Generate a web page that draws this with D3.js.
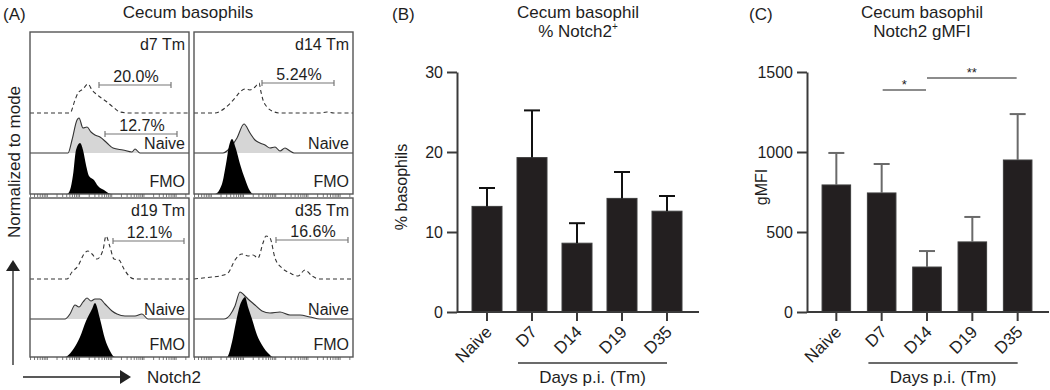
<!DOCTYPE html>
<html>
<head>
<meta charset="utf-8">
<script src="https://cdn.jsdelivr.net/npm/d3@7"></script>
<style>
  body { margin: 0; background: #fff; }
  text { font-family: "Liberation Sans", Arial, sans-serif; fill: #1e1e1e; }
</style>
</head>
<body>
<svg id="chart" width="1050" height="390"></svg>
<script>
// ---- data ----
// histograms: [channel, height] pairs, channel 0..159 across each box
var d7Dashed = [[0,0],[40,0],[45,13],[48,20],[53,24],[58,29],[62,23],[65,20],[70,16],[77,11],[83,6],[90,1],[100,0],[159,0]]
var d7Naive = [[0,0],[38,0],[42,13],[47,33],[49,35],[53,25],[57,26],[61,21],[65,18],[70,16],[77,10],[83,5],[93,3],[102,1],[105,4],[110,0],[159,0]]
var d7Fmo = [[0,0],[37,0],[40,4],[43,19],[46,44],[50,51],[53,44],[56,29],[59,18],[64,14],[68,8],[74,4],[81,0],[159,0]]

var d14Dashed = [[0,0],[21,0],[31,5],[41,15],[46,21],[51,24],[56,23],[61,26],[65,30],[67,21],[69,13],[73,6],[78,2],[86,0],[126,0],[133,1],[140,0],[159,0]]
var d14Naive = [[0,0],[29,0],[36,5],[43,15],[50,29],[56,20],[61,13],[66,10],[71,8],[76,5],[81,6],[86,2],[91,5],[96,2],[100,0],[159,0]]
var d14Fmo = [[0,0],[21,0],[28,10],[32,30],[35,48],[38,55],[42,45],[46,30],[51,15],[56,3],[59,0],[159,0]]

var d19Dashed = [[0,0],[37,0],[42,7],[48,13],[54,25],[58,28],[62,25],[67,20],[73,29],[76,43],[80,32],[84,20],[89,19],[94,10],[100,2],[105,0],[159,0]]
var d19Naive = [[0,0],[35,0],[40,5],[45,14],[49,12],[53,17],[57,21],[61,18],[65,20],[70,20],[75,15],[82,8],[87,5],[95,3],[105,3],[112,5],[118,0],[159,0]]
var d19Fmo = [[0,0],[35,0],[42,6],[50,20],[56,36],[62,48],[65,54],[70,38],[75,18],[80,6],[85,0],[159,0]]

var d35Dashed = [[0,0],[18,2],[26,3],[34,6],[41,19],[48,25],[54,23],[59,24],[64,21],[69,36],[72,43],[76,41],[81,21],[88,11],[96,6],[104,3],[111,9],[118,3],[126,0],[159,0]]
var d35Naive = [[0,0],[30,0],[36,4],[41,13],[46,27],[50,24],[54,20],[61,14],[68,8],[76,6],[86,7],[96,4],[106,4],[116,2],[126,0],[159,0]]
var d35Fmo = [[0,0],[33,0],[38,15],[42,35],[46,52],[49,58],[51,60],[54,50],[58,38],[63,22],[68,12],[75,3],[79,0],[159,0]]

var histLabels = ["d7 Tm", "d14 Tm", "d19 Tm", "d35 Tm"]
var gateText = ["20.0%", "5.24%", "12.1%", "16.6%"]
var gateFrom = [69, 68, 83, 82]
var gateTo = [141, 140, 154, 154]
var gateHeight = [28, 30, 38, 39]
var naiveGateText = "12.7%"
var naiveGate = [75, 147, 19]

// bar charts
var days = ["Naive", "D7", "D14", "D19", "D35"]
var pctMean = [13.2, 19.3, 8.6, 14.2, 12.6]
var pctSem = [2.3, 5.9, 2.5, 3.3, 1.9]
var pctTicks = [0, 10, 20, 30]
var mfiMean = [794, 744, 281, 438, 950]
var mfiSem = [200, 181, 100, 156, 287]
var mfiTicks = [0, 500, 1000, 1500]

var svg = d3.select("#chart")
var dark = "#3a3a3a"

// ---- panel A ----
svg.append("text").attr("x", 3).attr("y", 20).attr("font-size", 17).text("(A)")
svg.append("text").attr("x", 188).attr("y", 18).attr("font-size", 17)
  .attr("text-anchor", "middle").text("Cecum basophils")

var boxes = [
  {x0: 30, y0: 32, h: 162, dashed: d7Dashed, naive: d7Naive, fmo: d7Fmo},
  {x0: 194, y0: 32, h: 162, dashed: d14Dashed, naive: d14Naive, fmo: d14Fmo},
  {x0: 30, y0: 198, h: 159, dashed: d19Dashed, naive: d19Naive, fmo: d19Fmo},
  {x0: 194, y0: 198, h: 159, dashed: d35Dashed, naive: d35Naive, fmo: d35Fmo}
]

boxes.forEach(function (b, i) {
  var g = svg.append("g")
  var x = d3.scaleLinear().domain([0, 159]).range([b.x0, b.x0 + 159])
  var dashBase = b.y0 + 81
  var naiveBase = b.y0 + 121
  var fmoBase = b.y0 + b.h
  var y = d3.scaleLinear().domain([0, 60]).range([0, 60])

  var area = function (base) {
    return d3.area().curve(d3.curveMonotoneX)
      .x(function (d) { return x(d[0]) })
      .y0(base)
      .y1(function (d) { return base - y(d[1]) })
  }
  var line = function (base) {
    return d3.line().curve(d3.curveMonotoneX)
      .x(function (d) { return x(d[0]) })
      .y(function (d) { return base - y(d[1]) })
  }

  g.append("path").datum(b.naive).attr("d", area(naiveBase))
    .attr("fill", "#d6d6d6")
  g.append("path").datum(b.naive).attr("d", line(naiveBase))
    .attr("fill", "none").attr("stroke", "#333").attr("stroke-width", 1.1)
  g.append("path").datum(b.fmo).attr("d", area(fmoBase))
    .attr("fill", "#000")
  g.append("path").datum(b.dashed).attr("d", line(dashBase))
    .attr("fill", "none").attr("stroke", "#333").attr("stroke-width", 1.1)
    .attr("stroke-dasharray", "4,3")

  // log scale ticks along the bottom
  var lx = d3.scaleLog().domain([3, 2.6e5]).range([b.x0, b.x0 + 159])
  var ax = g.append("g").attr("transform", "translate(0," + fmoBase + ")")
    .call(d3.axisBottom(lx).tickSize(3).tickFormat(""))
  ax.select(".domain").remove()
  ax.selectAll("line").attr("stroke", "#555").attr("stroke-width", 0.8)

  g.append("rect").attr("x", b.x0).attr("y", b.y0).attr("width", 159).attr("height", b.h)
    .attr("fill", "none").attr("stroke", "#555").attr("stroke-width", 1.4)

  g.append("text").attr("x", b.x0 + 155).attr("y", b.y0 + 18).attr("font-size", 16)
    .attr("text-anchor", "end").text(histLabels[i])
  g.append("text").attr("x", b.x0 + 155).attr("y", naiveBase - 4).attr("font-size", 16)
    .attr("text-anchor", "end").text("Naive")
  g.append("text").attr("x", b.x0 + 155).attr("y", fmoBase - 7).attr("font-size", 16)
    .attr("text-anchor", "end").text("FMO")

  var gates = [{from: gateFrom[i], to: gateTo[i], yy: dashBase - gateHeight[i], t: gateText[i]}]
  if (i === 0) gates.push({from: naiveGate[0], to: naiveGate[1], yy: naiveBase - naiveGate[2], t: naiveGateText})
  gates.forEach(function (gt) {
    g.append("line").attr("x1", x(gt.from)).attr("x2", x(gt.to)).attr("y1", gt.yy).attr("y2", gt.yy)
      .attr("stroke", "#777").attr("stroke-width", 1.2)
    ;[gt.from, gt.to].forEach(function (v) {
      g.append("line").attr("x1", x(v)).attr("x2", x(v)).attr("y1", gt.yy - 3).attr("y2", gt.yy + 3)
        .attr("stroke", "#777").attr("stroke-width", 1.2)
    })
    g.append("text").attr("x", (x(gt.from) + x(gt.to)) / 2 + 1).attr("y", gt.yy - 3)
      .attr("font-size", 16).attr("text-anchor", "middle").text(gt.t)
  })
})

svg.append("text").attr("transform", "translate(20,162) rotate(-90)")
  .attr("font-size", 17).attr("text-anchor", "middle").text("Normalized to mode")
svg.append("line").attr("x1", 13).attr("x2", 13).attr("y1", 365).attr("y2", 268)
  .attr("stroke", "#222").attr("stroke-width", 1.3)
svg.append("path").attr("d", "M13,260 L6,271 L20,271 Z").attr("fill", "#222")
svg.append("line").attr("x1", 23).attr("x2", 122).attr("y1", 377).attr("y2", 377)
  .attr("stroke", "#222").attr("stroke-width", 1.3)
svg.append("path").attr("d", "M131,377 L120,370 L120,384 Z").attr("fill", "#222")
svg.append("text").attr("x", 147).attr("y", 383).attr("font-size", 17).text("Notch2")

// ---- panels B and C ----
function drawBars(cfg) {
  var g = svg.append("g")
  var top = 72, bottom = 312
  var y = d3.scaleLinear().domain(cfg.domain).range([bottom, top])
  var x = d3.scaleBand().domain(days)
    .range([cfg.axisX + 7.5, cfg.axisX + 232.5])
    .paddingInner(cfg.padIn).paddingOuter(1 / 6)

  g.append("text").attr("x", cfg.letterX).attr("y", 20).attr("font-size", 17).text(cfg.letter)
  g.append("text").attr("x", cfg.titleX).attr("y", 18).attr("font-size", 17)
    .attr("text-anchor", "middle").text("Cecum basophil")
  var t2 = g.append("text").attr("x", cfg.titleX).attr("y", 37).attr("font-size", 17)
    .attr("text-anchor", "middle")
  t2.append("tspan").text(cfg.title2)
  if (cfg.sup) t2.append("tspan").attr("font-size", 10).attr("dy", -7).text(cfg.sup)

  // bars
  g.selectAll(".bar").data(days).enter().append("rect")
    .attr("class", "bar")
    .attr("x", function (d) { return x(d) })
    .attr("width", x.bandwidth())
    .attr("y", function (d, i) { return y(cfg.mean[i]) })
    .attr("height", function (d, i) { return y(0) - y(cfg.mean[i]) })
    .attr("fill", "#231f20").attr("stroke", "#3c3c3c").attr("stroke-width", 1)

  // error bars (upper)
  days.forEach(function (d, i) {
    var cx = x(d) + x.bandwidth() / 2
    var hi = y(cfg.mean[i] + cfg.sem[i])
    g.append("line").attr("x1", cx).attr("x2", cx).attr("y1", y(cfg.mean[i])).attr("y2", hi)
      .attr("stroke", cfg.errColor).attr("stroke-width", 2)
    g.append("line").attr("x1", cx - 8).attr("x2", cx + 8).attr("y1", hi).attr("y2", hi)
      .attr("stroke", cfg.errColor).attr("stroke-width", 2)
  })

  // y axis
  var ya = g.append("g").attr("transform", "translate(" + cfg.axisX + ",0)")
    .call(d3.axisLeft(y).tickValues(cfg.ticks).tickFormat(d3.format("d"))
      .tickSize(10).tickPadding(4).tickSizeOuter(0))
  ya.select(".domain").attr("stroke", dark).attr("stroke-width", 2)
  ya.selectAll(".tick line").attr("stroke", dark).attr("stroke-width", 2)
  ya.selectAll(".tick text").attr("font-size", 16).attr("fill", "#1e1e1e")
    .attr("font-family", "Liberation Sans, Arial, sans-serif")

  // x axis
  g.append("line").attr("x1", cfg.axisX).attr("x2", cfg.axisX + 242).attr("y1", bottom).attr("y2", bottom)
    .attr("stroke", dark).attr("stroke-width", 2)
  days.forEach(function (d) {
    var cx = x(d) + x.bandwidth() / 2
    g.append("line").attr("x1", cx).attr("x2", cx).attr("y1", bottom).attr("y2", bottom + 9)
      .attr("stroke", dark).attr("stroke-width", 2)
    g.append("text").attr("transform", "translate(" + (cx + 6) + "," + (bottom + 21) + ") rotate(-45)")
      .attr("font-size", 17).attr("text-anchor", "end").text(d)
  })

  // group bracket
  var gx1 = x("D7") + 1, gx2 = x("D35") + x.bandwidth() / 2
  g.append("line").attr("x1", gx1).attr("x2", gx2).attr("y1", 363).attr("y2", 363)
    .attr("stroke", dark).attr("stroke-width", 1.5)
  g.append("text").attr("x", (gx1 + gx2) / 2).attr("y", 383).attr("font-size", 17)
    .attr("text-anchor", "middle").text("Days p.i. (Tm)")

  g.append("text").attr("transform", "translate(" + cfg.labelX + ",187) rotate(-90)")
    .attr("font-size", 16).attr("text-anchor", "middle").text(cfg.ylabel)
  return {g: g, x: x, y: y}
}

drawBars({letter: "(B)", letterX: 392, titleX: 578, title2: "% Notch2", sup: "+",
  axisX: 457, domain: [0, 30], ticks: pctTicks, mean: pctMean, sem: pctSem,
  padIn: 1 / 3, errColor: "#111", labelX: 407, ylabel: "% basophils"})

var c = drawBars({letter: "(C)", letterX: 749, titleX: 922, title2: "Notch2 gMFI", sup: null,
  axisX: 807, domain: [0, 1500], ticks: mfiTicks, mean: mfiMean, sem: mfiSem,
  padIn: 0.37, errColor: "#6a6a6a", labelX: 767, ylabel: "gMFI"})

// significance marks
var sig = [{a: "D7", b: "D14", yy: 90, t: "*"}, {a: "D14", b: "D35", yy: 78, t: "**"}]
sig.forEach(function (s) {
  var x1 = c.x(s.a) + c.x.bandwidth() / 2 + 1
  var x2 = c.x(s.b) + c.x.bandwidth() / 2 - 1
  if (s.a === "D14") x1 = x1 - 1
  c.g.append("line").attr("x1", x1).attr("x2", x2).attr("y1", s.yy).attr("y2", s.yy)
    .attr("stroke", "#666").attr("stroke-width", 1.5)
  c.g.append("text").attr("x", (x1 + x2) / 2).attr("y", s.yy - 1).attr("font-size", 13)
    .attr("text-anchor", "middle").text(s.t)
})
</script>
</body>
</html>
